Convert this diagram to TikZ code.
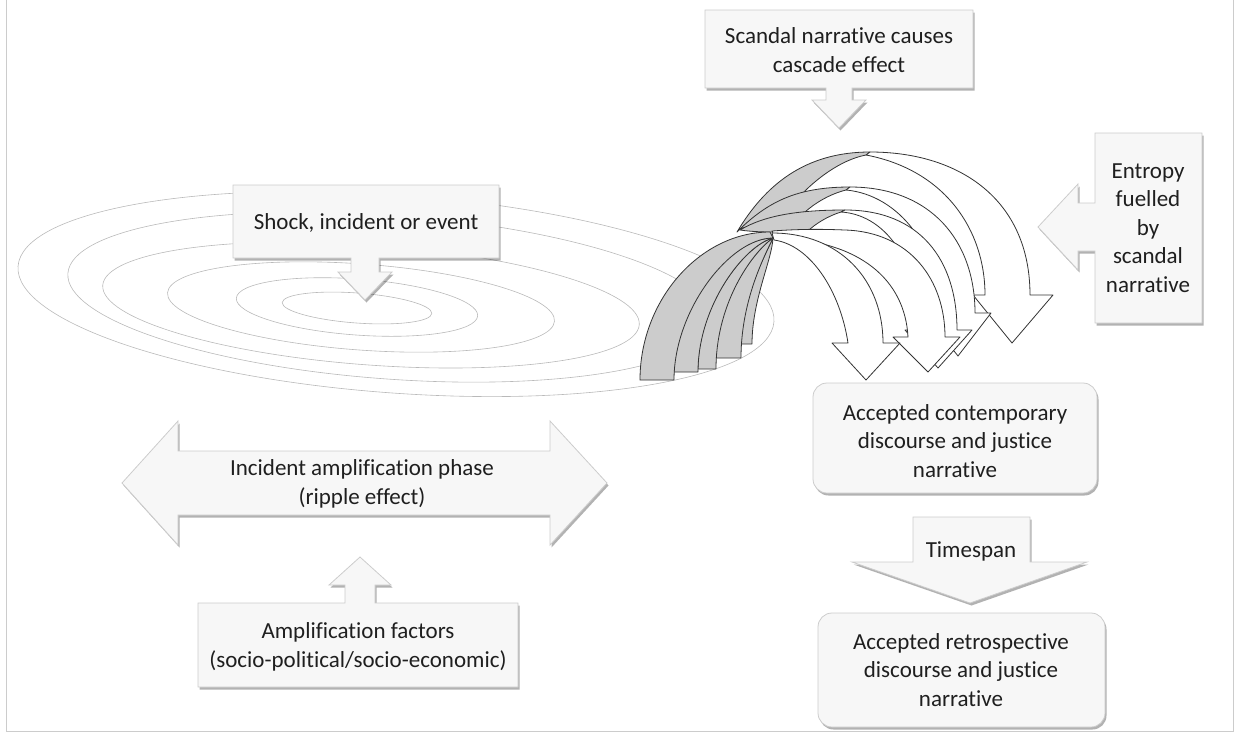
\documentclass[tikz,border=0pt]{standalone}
\usepackage{fontspec}
\setmainfont{Carlito}[Ligatures=NoCommon]
\usetikzlibrary{shadows}
\begin{document}
\begin{tikzpicture}[x=1pt,y=-1pt,
  calloutbox/.style={fill=gray!6, draw=gray!40, line width=0.8pt,
    drop shadow={shadow xshift=1.5pt, shadow yshift=-2.5pt, fill=black, opacity=0.3}},
  roundbox/.style={calloutbox, rounded corners=14pt},
  txt/.style={align=center, font=\fontsize{23}{28.5}\selectfont, text=black!88, inner sep=0pt},
  ripple/.style={draw=gray!55, line width=0.6pt},
  backfill/.style={fill=gray!40, draw=black!80, line width=0.8pt, line join=round},
  frontfill/.style={fill=white, draw=black!80, line width=0.8pt, line join=round},
  frameline/.style={draw=gray!40, line width=0.8pt}]
\useasboundingbox (0,0) rectangle (1243,740);
% frame
\draw[frameline] (6,0) -- (6,731) -- (1233,731) -- (1233,0);
% ripples
\foreach \cx/\cy/\ra/\rb in {396/294/379/99, 390/297/323/82, 371/305/269/60, 361/307/194/43, 357/307/121/28, 357/308/75/15}
  \draw[ripple, rotate around={-4.2:(\cx,\cy)}] (\cx,\cy) ellipse [x radius=\ra pt, y radius=\rb pt];

% ---- cascade arcs (back to front)
% arc 5
\draw[backfill] (737,232) .. controls (765,185) and (805,152) .. (870,152) -- (866,155) .. controls (840,160) and (815,180) .. (800,196) .. controls (775,205) and (755,215) .. cycle;
\draw[frontfill] (870,152) .. controls (960,152) and (1030,200) .. (1030,295) -- (1053,295) -- (1012,343) -- (973,295) -- (985,295) .. controls (985,230) and (945,170) .. (866,155) -- cycle;
% arc 4
\draw[backfill] (740,229) .. controls (770,200) and (800,187) .. (850,187) -- (846,190) .. controls (830,194) and (815,203) .. (805,212) .. controls (780,216) and (760,222) .. cycle;
\draw[frontfill] (850,187) .. controls (930,187) and (975,240) .. (975,313) -- (991,313) -- (958,356) -- (924,313) -- (940,313) .. controls (940,250) and (900,195) .. (846,190) -- cycle;
% arc 3
\draw[backfill] (740,230) .. controls (765,215) and (800,210) .. (845,210) -- (841,212) .. controls (828,216) and (815,224) .. (808,231) .. controls (785,232) and (760,233) .. cycle;
\draw[frontfill] (845,210) .. controls (920,210) and (957,260) .. (957,330) -- (972,330) -- (938,368) -- (905,330) -- (920,330) .. controls (920,270) and (890,215) .. (841,212) -- cycle;
% gray legs
\draw[backfill] (741,344) .. controls (741,300) and (765,255) .. (773,238) .. controls (772,260) and (752,300) .. (752,344) -- cycle;
\draw[backfill] (716,358) .. controls (716,300) and (755,250) .. (773,238) .. controls (765,255) and (741,300) .. (741,358) -- cycle;
\draw[backfill] (698,369) .. controls (698,305) and (745,245) .. (773,238) .. controls (755,250) and (716,300) .. (716,369) -- cycle;
\draw[backfill] (674,372) .. controls (674,305) and (730,238) .. (773,238) .. controls (745,245) and (698,305) .. (698,372) -- cycle;
\draw[backfill] (640,380) .. controls (640,300) and (700,232) .. (770,232) -- (773,238) .. controls (730,238) and (674,310) .. (674,380) -- cycle;
% arc 2
\draw[frontfill] (772,231) .. controls (800,229) and (820,229) .. (845,230) .. controls (910,232) and (945,280) .. (945,337) -- (960,337) -- (928,372) -- (893,337) -- (908,337) .. controls (905,280) and (860,240) .. (775,238) -- cycle;
% arc 1
\draw[frontfill] (772,233) .. controls (840,233) and (883,280) .. (883,343) -- (900,343) -- (866,380) -- (832,343) -- (848,343) .. controls (840,290) and (810,245) .. (774,240) -- cycle;

% ---- callouts
\draw[calloutbox] (705,10) -- (973,10) -- (973,88) -- (852,88) -- (852,100) -- (866,100) -- (839,128) -- (812,100) -- (826,100) -- (826,88) -- (705,88) -- cycle;
\node[txt] (scandal) at (839,50) {Scandal narrative causes\\cascade effect};

\draw[calloutbox] (233,185) -- (499,185) -- (499,258) -- (379,258) -- (379,272) -- (392,272) -- (365,300) -- (338,272) -- (351,272) -- (351,258) -- (233,258) -- cycle;
\node[txt] (shock) at (366,223) {Shock, incident or event};

\draw[calloutbox] (1095,133) -- (1202,133) -- (1202,323) -- (1095,323) -- (1095,251) -- (1078,251) -- (1078,270) -- (1038,227) -- (1078,184) -- (1078,203) -- (1095,203) -- cycle;
\node[txt] (entropy) at (1148,228) {Entropy\\fuelled\\by\\scandal\\narrative};

\draw[calloutbox] (122,483) -- (178,421) -- (178,451) -- (550,451) -- (550,421) -- (607,483) -- (550,545) -- (550,515) -- (178,515) -- (178,545) -- cycle;
\node[txt] (phase) at (362,484) {Incident amplification phase\\(ripple effect)};

\draw[calloutbox] (198,603) -- (345,603) -- (345,585) -- (329,585) -- (360,557) -- (391,585) -- (375,585) -- (375,603) -- (518,603) -- (518,687) -- (198,687) -- cycle;
\node[txt] (factors) at (358,647) {Amplification factors\\(socio-political/socio-economic)};

\draw[roundbox] (813,383) rectangle (1097,493);
\node[txt] (contemp) at (955,441) {Accepted contemporary\\discourse and justice\\narrative};

\draw[calloutbox] (913,517) -- (1030,517) -- (1030,562) -- (1087,562) -- (970,603) -- (852,562) -- (913,562) -- cycle;
\node[txt] (timespan) at (971,551) {Timespan};

\draw[roundbox] (818,613) rectangle (1105,727);
\node[txt] (retro) at (961,670) {Accepted retrospective\\discourse and justice\\narrative};
\end{tikzpicture}
\end{document}
